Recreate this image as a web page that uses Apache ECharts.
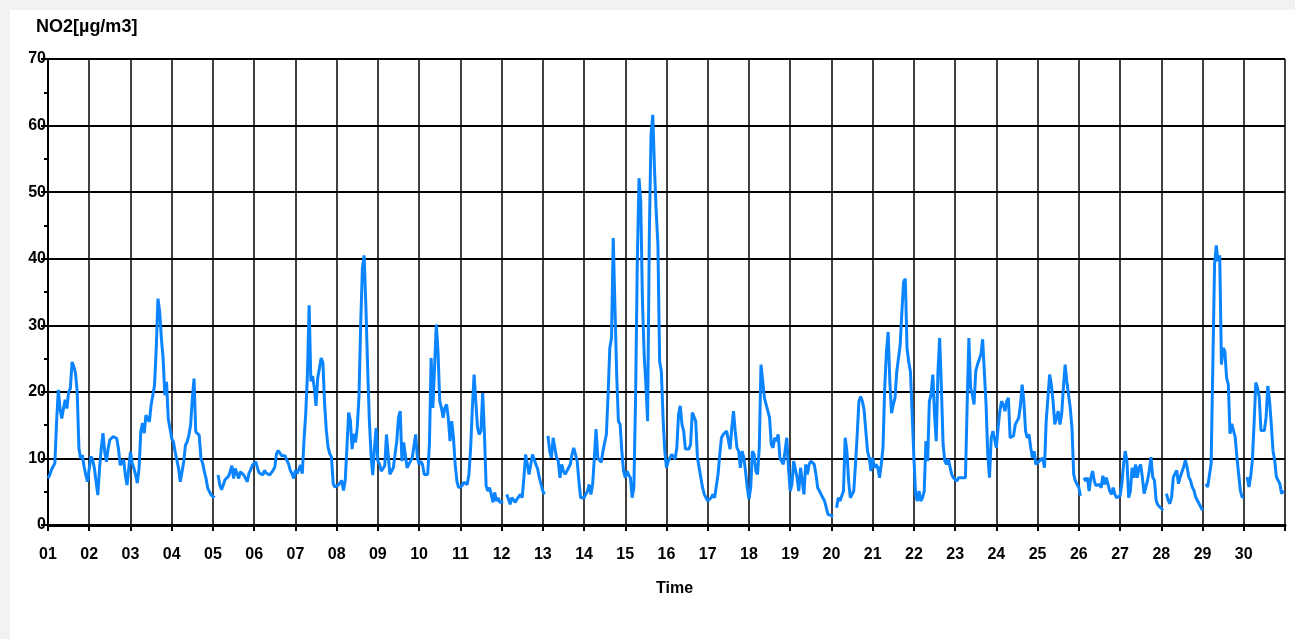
<!DOCTYPE html>
<html>
<head>
<meta charset="utf-8">
<script src="https://cdn.jsdelivr.net/npm/echarts@6/dist/echarts.min.js"></script>
<style>
html,body{margin:0;padding:0;background:#f2f2f2;width:1295px;height:639px;overflow:hidden;}
#chart{position:absolute;left:10px;top:10px;width:1285px;height:629px;background:#ffffff;}
</style>
</head>
<body>
<div id="chart"></div>
<script>
const dayLabels = ['01','02','03','04','05','06','07','08','09','10','11','12','13','14','15','16','17','18','19','20','21','22','23','24','25','26','27','28','29','30'];
const yTicks = [0, 10, 20, 30, 40, 50, 60, 70];
const yTitle = 'NO2[µg/m3]';
const xTitle = 'Time';

// hourly NO2 values per day (h00..h23), null = missing
const day01 = [7, 7.5, 8.3, 8.5, 9.3, 15.5, 20.3, 17.5, 16, 17.5, 18.8, 17.5, 20, 20.5, 24.5, 23.8, 22.8, 20, 11.5, 10, 10.5, 8.8, 7.5, 6.5];
const day02 = [8.5, 10.3, 9.8, 8.5, 6.5, 4.5, 8.5, 11.5, 13.8, 11, 9.5, 11.5, 12.8, 13, 13.3, 13.5, 13, 11.5, 9, 9.3, 9.8, 7.5, 6, 8.5];
const day03 = [11, 9.3, 8.5, 7.5, 6.3, 8.5, 14, 15.3, 13.8, 16.5, 16, 15.5, 18, 19.5, 21, 26.5, 34, 32, 28, 25, 19.5, 21.5, 16, 14.5];
const day04 = [13, 12.5, 11, 11, 8.5, 6.5, 6.5, 9.5, 12, 12.5, 13.5, 15, 19, 22, 14, 13.8, 13.5, 10, 9.3, 8, 7, 5.5, 5, 4.5];
const day05 = [4.3, 4.1, null, 7.5, 6, 5.3, 6, 6.8, 7, 7.3, 8, 8.9, 7, 8.5, 8.8, 7, 8, 7.8, 7.5, 7, 6.5, 7.8, 8.3, 9];
const day06 = [9.3, 9.5, 8.5, 7.8, 7.5, 7.5, 8.2, 7.8, 7.7, 7.5, 7.2, 8.2, 8.7, 10.7, 11.2, 11.4, 10.4, 10.2, 10.4, 9.7, 9.2, 8.2, 7.7, 7];
const day07 = [8.2, 7.7, 7.7, 9, 7.7, 12.7, 16.7, 22.6, 33, 21.6, 22.4, 20.6, 17.9, 22.1, 23.6, 25.1, 24.4, 18.2, 14.2, 11.7, 10.7, 10.2, 6.2, 5.7];
const day08 = [5.7, 6, 5.7, 6.7, 5.2, 6.7, 11.7, 16.9, 15.7, 11.4, 13.7, 12.4, 14.7, 19.2, 30.1, 38.6, 40.5, 33, 24, 16, 10.7, 7.5, 11.5, 14.6];
const day09 = [9.6, 9.1, 8.1, 8, 8.9, 13.6, 13.6, 7.6, 7.6, 8.6, 8.9, 12.6, 16.1, 17.1, 9.6, 12.4, 12.6, 8.6, 9.1, 9.6, 10.1, 10.1, 13.6, 10.1];
const day10 = [9.1, 9.6, 9.1, 7.6, 7.4, 7.6, 12.1, 25.1, 17.6, 23.6, 30.1, 26.1, 18.6, 17.6, 16.1, 17.6, 18.1, 16.1, 12.6, 15.6, 13.1, 9.1, 6.6, 5.6];
const day11 = [5.6, 5.9, 6.4, 6.4, 6.1, 7.6, 11.6, 17.6, 22.6, 18.6, 14.6, 13.6, 14.1, 19.8, 14, 5.9, 5.1, 5.6, 4.6, 3.4, 4.9, 3.6, 4.1, 3.4];
const day12 = [3.4, 3.5, null, 4.6, 3.9, 3.1, 4.1, 3.9, 3.4, 3.9, 3.6, 4.6, 4.1, 7.1, 10.6, 10.6, 7.6, 9.1, 10.6, 10.6, 9.1, 8.4, 7.1, 6.1];
const day13 = [5.1, 4.6, null, 13.4, 11.1, 10.1, 13.1, 11.6, 10.1, 9.6, 7.1, 9.1, 8.1, 7.6, 8.1, 8.6, 9.1, 10.6, 11.6, 10.6, 9.6, 6.6, 4.1, 4.1];
const day14 = [4.1, 4.6, 5.1, 6.1, 4.6, 6.1, 10.1, 14.4, 10.1, 10.1, 9.4, 11.1, 11.4, 13.6, 19.6, 26.6, 28.1, 43.1, 32.6, 22.6, 15.6, 15.1, 11.1, 8.1];
const day15 = [7.1, 8.1, 7.5, 7.1, 4.1, 5.6, 19.1, 39.6, 52.1, 48.6, 33.6, 25.6, 21.1, 15.6, 43.6, 58.6, 61.6, 53.6, 47.1, 42.1, 24.6, 23.1, 16.1, 11.1];
const day16 = [8.6, 9.6, 10.1, 10.6, 10.4, 9.9, 11.6, 16.6, 17.9, 15.1, 14.1, 11.4, 11.4, 11.4, 12.1, 16.9, 16.9, 15.6, 10.1, 8.6, 7.1, 5.6, 4.6, 4.1];
const day17 = [3.6, 3.6, 4.1, 4.6, 4.1, 4.4, 7.6, 10.6, 13.1, 13.6, 13.9, 14.1, 13.9, 11.4, 14.6, 17.1, 14.1, 11.6, 11.1, 8.6, 11.1, 10.1, 8.1, 5.6];
const day18 = [3.9, 5.6, 11.1, 10.6, 8.1, 7.6, 11.6, 24.1, 21.6, 19.1, 18.1, 17.1, 16.1, 12.1, 11.6, 13.1, 12.6, 13.6, 10.1, 9.6, 9.1, 9.1, 13.1, 8.6];
const day19 = [5.1, 6.1, 9.6, 9.9, 7.1, 5.1, 8.6, 8.4, 4.6, 9.1, 7.6, 9.1, 9.6, 9.6, 9.1, 7.6, 5.6, 5.1, 4.6, 4.1, 3.6, 2.6, 1.6, 1.6];
const day20 = [1.4, 1.3, null, 2.6, 4.1, 3.6, 3.9, 5.1, 13.1, 11.1, 6.6, 4.1, 4.1, 5.1, 9.1, 13.6, 18.6, 19.3, 18.6, 17.3, 17.1, 11.1, 10.1, 8.1];
const day21 = [10.1, 8.6, 9.1, 8.6, 7.1, 9.1, 11.6, 20.5, 26, 29, 21.5, 16.8, 18.1, 19.1, 23, 25, 27, 32, 36.5, 37, 26.5, 24.5, 23, 16.6];
const day22 = [10.1, 4.6, 3.6, 5.1, 3.6, 4.1, 5.1, 12.6, 9.6, 18.6, 19.6, 22.6, 16.6, 12.6, 23.1, 28.1, 20.6, 12.1, 9.6, 9.1, 9.9, 10.1, 7.6, 7.1];
const day23 = [6.9, 6.6, 7.1, 7.1, 7.1, 7.1, 7.1, 18.1, 28.1, 20.6, 19.6, 18.1, 23.1, 24.1, 24.1, 25.6, 27.9, 27.6, 18.1, 10.6, 7.1, 13.1, 14.1, 14.1];
const day24 = [11.6, 14.6, 17.1, 18.6, 18.1, 17.1, 18.6, 19.1, 13.1, 13.1, 13.4, 15.1, 15.6, 16.1, 17.9, 21.1, 18.6, 14.1, 13.1, 13.6, 11.6, 10.1, 11.1, 9.1];
const day25 = [8.9, 9.6, 9.6, 10.1, 8.6, 15.6, 15.6, 22.6, 21.1, 18.6, 15.1, 15.1, 17.1, 15.1, 16.6, 20.6, 24.1, 21.6, 19.6, 17.6, 14.6, 7.6, 6.6, 6.6];
const day26 = [5.6, 4.4, null, 7.1, 6.6, 7.1, 5.1, 7.1, 8.1, 6.6, 5.9, 5.6, 6.1, 5.6, 7.4, 6.1, 7.1, 6.1, 5.1, 4.6, 5.6, 4.6, 4.1, 3.9];
const day27 = [4.4, 6.1, 9, 11.1, 9.6, 4.1, 5.1, 8.6, 7.1, 9.1, 7.1, 8.6, 9.1, 7.1, 4.7, 4.4, 6.7, 8.2, 10.2, 7.2, 6.7, 3.7, 3, 2.7];
const day28 = [2.5, 2.2, null, 4.7, 3.7, 3.2, 4.2, 7.2, 7.7, 8.2, 6.2, 7.2, 7.2, 8.7, 9.7, 8.7, 7.2, 6.7, 5.7, 5.2, 4.2, 4.2, 3.2, 2.7];
const day29 = [2.2, null, 6.2, 5.7, 5.5, 9.2, 24.1, 39.1, 42, 39.6, 40.5, 24.1, 26.6, 26.1, 22.1, 21.1, 13.7, 15.2, 15.2, 13.2, 10.2, 7.7, 5.2, 4.2];
const day30 = [4.2, null, 7.2, 5.7, 7.2, 9.7, 15.2, 21.4, 20.6, 19.2, 14.2, 13.9, 14.2, 16.2, 20.9, 18.7, 15.2, 11.2, 9.7, 7.2, 7, 6.2, 4.7, 5.2];

const days = [day01, day02, day03, day04, day05, day06, day07, day08, day09, day10,
  day11, day12, day13, day14, day15, day16, day17, day18, day19, day20,
  day21, day22, day23, day24, day25, day26, day27, day28, day29, day30];

const seriesData = [];
days.forEach((arr, d) => {
  arr.forEach((v, h) => {
    seriesData.push([d + 1 + h / 24, v === null ? '-' : v]);
  });
});

const FONT = "'Liberation Sans', Arial, Helvetica, sans-serif";
const chart = echarts.init(document.getElementById('chart'), null, {renderer: 'canvas'});
chart.setOption({
  animation: false,
  backgroundColor: '#ffffff',
  grid: {left: 38, right: 10, top: 49, bottom: 114, containLabel: false},
  graphic: [{
    type: 'text', left: 26, top: 8,
    style: {text: yTitle, font: 'bold 18px ' + FONT, fill: '#000'}
  }],
  xAxis: {
    type: 'value', min: 1, max: 31, interval: 1,
    name: xTitle, nameLocation: 'middle', nameGap: 56,
    nameTextStyle: {fontFamily: FONT, fontWeight: 'bold', fontSize: 16, color: '#000', padding: [0, 0, 0, 16]},
    axisLine: {show: true, onZero: false, lineStyle: {color: '#000', width: 3}},
    axisTick: {show: true, length: 6, lineStyle: {color: '#000', width: 2}},
    axisLabel: {
      margin: 22, fontFamily: FONT, fontWeight: 'bold', fontSize: 16, color: '#000',
      formatter: v => dayLabels[Math.round(v) - 1] || ''
    },
    splitLine: {show: true, lineStyle: {color: '#000', width: 1.5}}
  },
  yAxis: {
    type: 'value', min: yTicks[0], max: yTicks[yTicks.length - 1], interval: 10,
    axisLine: {show: true, lineStyle: {color: '#000', width: 2}},
    axisTick: {show: true, length: 7, lineStyle: {color: '#000', width: 2}},
    minorTick: {show: true, splitNumber: 2, length: 4, lineStyle: {color: '#000', width: 2}},
    axisLabel: {margin: 2, fontFamily: FONT, fontWeight: 'bold', fontSize: 16, color: '#000'},
    splitLine: {show: true, lineStyle: {color: '#000', width: 2}}
  },
  series: [{
    type: 'line', data: seriesData, showSymbol: false, symbol: 'none',
    connectNulls: false, smooth: false,
    lineStyle: {color: '#0a84ff', width: 3},
    itemStyle: {color: '#0a84ff'}
  }]
});
</script>
</body>
</html>
